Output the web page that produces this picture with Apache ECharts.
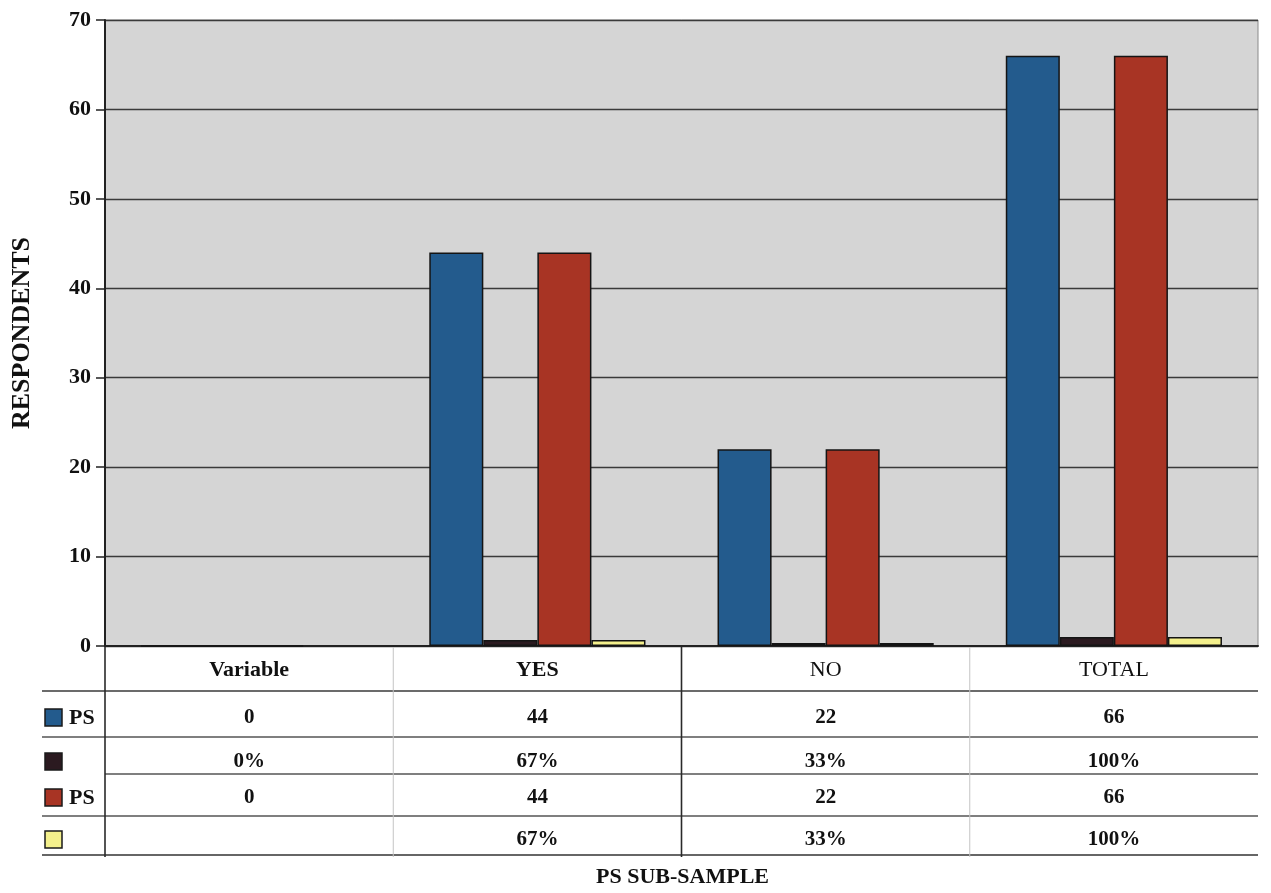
<!DOCTYPE html>
<html>
<head>
<meta charset="utf-8">
<title>PS sub-sample respondents</title>
<script src="https://cdn.jsdelivr.net/npm/echarts@6/dist/echarts.min.js"></script>
<style>
  html, body { margin: 0; padding: 0; background: #ffffff; }
  #chart { width: 1271px; height: 893px; }
</style>
</head>
<body>
<div id="chart"></div>
<script>
// Categories along the x axis (also the header row of the data table)
const categories = ['Variable', 'YES', 'NO', 'TOTAL'];

// Series values
const psCountA = [0, 44, 22, 66];          // PS (blue)
const psShareA = [0, 0.67, 0.33, 1.00];    // share (dark)
const psCountB = [0, 44, 22, 66];          // PS (red)
const psShareB = [null, 0.67, 0.33, 1.00]; // share (yellow)

// Row labels shown next to the legend keys in the table
const rowNames = ['PS', '', 'PS', ''];
const rowColors = ['#235b8d', '#2b1a20', '#a83424', '#f4f08c'];

// Y axis range
const yMin = 0, yMax = 70, yStep = 10;

const FONT = '"Liberation Serif", "Times New Roman", serif';

const asCount = v => (v === null || v === undefined) ? '' : String(v);
const asShare = v => (v === null || v === undefined) ? '' : Math.round(v * 100) + '%';

const rows = [
  { values: psCountA, fmt: asCount },
  { values: psShareA, fmt: asShare },
  { values: psCountB, fmt: asCount },
  { values: psShareB, fmt: asShare }
];

const chart = echarts.init(document.getElementById('chart'), null, { renderer: 'canvas' });

const barStyle = c => ({ color: c, borderColor: '#141414', borderWidth: 1.5 });

chart.setOption({
  animation: false,
  backgroundColor: '#ffffff',
  grid: {
    left: 105, right: 13, top: 20, bottom: 247,
    show: true, backgroundColor: '#d5d5d5', borderColor: '#8a8a8a', borderWidth: 1
  },
  xAxis: {
    type: 'category',
    data: categories,
    axisLine: { show: true, lineStyle: { color: '#222', width: 2 } },
    axisTick: { show: false },
    axisLabel: { show: false }
  },
  yAxis: {
    type: 'value',
    min: yMin, max: yMax, interval: yStep,
    name: 'RESPONDENTS',
    nameLocation: 'middle',
    nameRotate: 90,
    nameGap: 70,
    nameTextStyle: { fontFamily: FONT, fontWeight: 'bold', fontSize: 26, color: '#111' },
    axisLine: { show: true, lineStyle: { color: '#222', width: 2 } },
    axisTick: { show: true, inside: false, length: 9, lineStyle: { color: '#222', width: 1.5 } },
    axisLabel: { fontFamily: FONT, fontWeight: 'bold', fontSize: 22, color: '#111', margin: 14 },
    splitLine: { show: true, lineStyle: { color: '#3a3a3a', width: 1.3 } }
  },
  series: [
    { name: 'PS', type: 'bar', data: psCountA, itemStyle: barStyle(rowColors[0]), barGap: '0%', barCategoryGap: '25%' },
    { name: 'share A', type: 'bar', data: psShareA, itemStyle: barStyle(rowColors[1]) },
    { name: 'PS ', type: 'bar', data: psCountB, itemStyle: barStyle(rowColors[2]) },
    { name: 'share B', type: 'bar', data: psShareB, itemStyle: barStyle(rowColors[3]) }
  ]
});

// Data table drawn under the plot, aligned to the category axis
function buildTable() {
  const centers = categories.map(c => chart.convertToPixel({ xAxisIndex: 0 }, c));
  const band = centers[1] - centers[0];
  const left = centers[0] - band / 2;
  const right = centers[centers.length - 1] + band / 2;
  const top = chart.convertToPixel({ yAxisIndex: 0 }, yMin);

  const headerY = top + 24;
  const rowY = [top + 72, top + 116, top + 152, top + 194];
  const lineY = [top + 45, top + 91, top + 128, top + 170, top + 209];
  const keyX = 45, tableLeft = 42;

  const els = [];

  // horizontal rules
  const hColors = ['#3a3a3a', '#555', '#555', '#555', '#333'];
  lineY.forEach((y, i) => {
    els.push({
      type: 'line', silent: true,
      shape: { x1: i === 2 ? left : tableLeft, y1: y, x2: right, y2: y },
      style: { stroke: hColors[i], lineWidth: 1.5 }
    });
  });

  // vertical rules at category boundaries
  for (let i = 0; i <= categories.length - 1; i++) {
    const x = left + band * i;
    const strong = (i === 0 || i === 2);
    els.push({
      type: 'line', silent: true,
      shape: { x1: x, y1: top, x2: x, y2: lineY[4] + 2 },
      style: { stroke: strong ? '#2a2a2a' : '#c4c4c4', lineWidth: strong ? 1.6 : 1 }
    });
  }

  // header row
  categories.forEach((c, i) => {
    els.push({
      type: 'text', silent: true,
      x: centers[i], y: headerY,
      style: {
        text: c, fontFamily: FONT, fontSize: 22,
        fontWeight: (i < 2) ? 'bold' : 'normal',
        fill: '#111', align: 'center', verticalAlign: 'middle'
      }
    });
  });

  // value rows with legend keys
  rows.forEach((r, ri) => {
    els.push({
      type: 'rect', silent: true,
      shape: { x: keyX, y: rowY[ri] - 9, width: 17, height: 17 },
      style: { fill: rowColors[ri], stroke: '#1a1a1a', lineWidth: 1.5 }
    });
    if (rowNames[ri]) {
      els.push({
        type: 'text', silent: true,
        x: keyX + 24, y: rowY[ri],
        style: {
          text: rowNames[ri], fontFamily: FONT, fontSize: 22, fontWeight: 'bold',
          fill: '#111', align: 'left', verticalAlign: 'middle'
        }
      });
    }
    r.values.forEach((v, ci) => {
      els.push({
        type: 'text', silent: true,
        x: centers[ci], y: rowY[ri],
        style: {
          text: r.fmt(v), fontFamily: FONT, fontSize: 21, fontWeight: 'bold',
          fill: '#111', align: 'center', verticalAlign: 'middle'
        }
      });
    });
  });

  // x axis title
  els.push({
    type: 'text', silent: true,
    x: (left + right) / 2 + 1, y: lineY[4] + 22,
    style: {
      text: 'PS SUB-SAMPLE', fontFamily: FONT, fontSize: 22, fontWeight: 'bold',
      fill: '#111', align: 'center', verticalAlign: 'middle'
    }
  });

  chart.setOption({ graphic: { elements: els } });
}

buildTable();
</script>
</body>
</html>
